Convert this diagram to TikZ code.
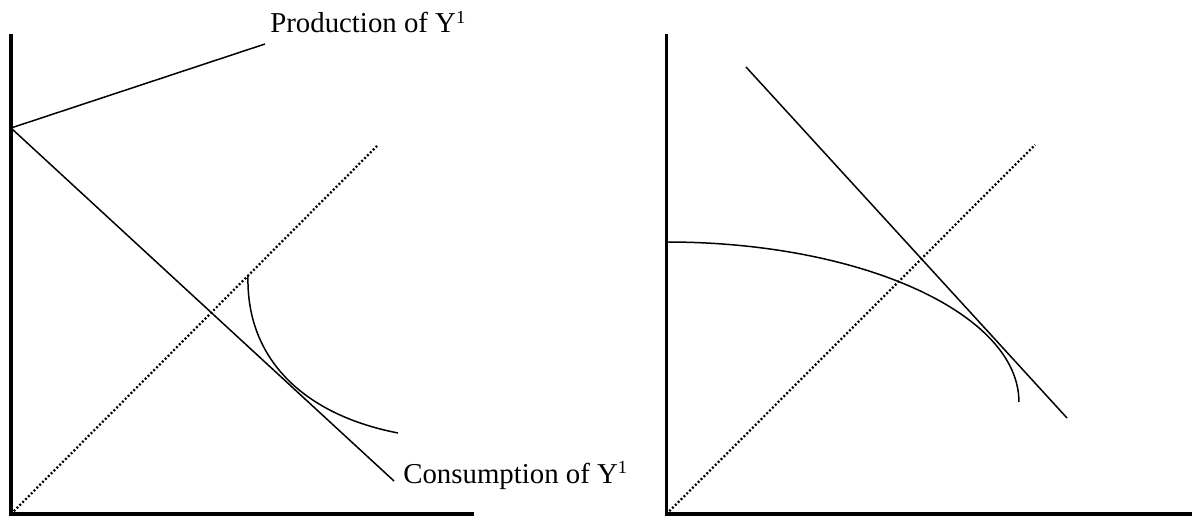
\documentclass[tikz,border=0pt]{standalone}
\usepackage{fontspec}
\setmainfont{Liberation Serif}
\usetikzlibrary{positioning}
\newcommand{\supone}{\raisebox{0.75ex}{\fontsize{10.5}{11}\selectfont 1}}

\begin{document}
\begin{tikzpicture}[
    x=0.02cm, y=-0.02cm,
    font=\fontsize{16.4}{19}\selectfont,
    axis/.style={line width=2pt, line join=miter},
    curve/.style={line width=0.85pt},
    diag/.style={line width=1.3pt, dash pattern=on 1.1pt off 1.2pt},
    lbl/.style={anchor=base west, inner sep=0pt}
  ]
  \useasboundingbox (0,0) rectangle (1192,516);
  % two pairs of axes
  \foreach \name/\x/\xend in {l/11/474, r/666.5/1192} {
    \coordinate (origin-\name) at (\x,514);
    \draw[axis] (\x,34) -- (origin-\name) -- (\xend,514);
  }
  % left panel
  \node[lbl] (prod) at (270,33) {Production of Y\supone};
  \node[lbl] (cons) at (403,483) {Consumption of Y\supone};
  \coordinate (endow) at (11,128);
  \coordinate (prod end) at (265,44);
  \coordinate (cons end) at (394,481);
  \draw[curve] (prod end) -- (endow) -- (cons end);
  \coordinate (ray-l) at (378,145);
  \draw[diag] (origin-l) -- (ray-l);
  \draw[curve] (248,276) .. controls (246,360) and (305,415) .. (398,433);
  % right panel
  \coordinate (ray-r) at (1035,145);
  \draw[diag] (origin-r) -- (ray-r);
  \coordinate (price top) at (746,67);
  \coordinate (price end) at (1067,418);
  \draw[curve] (price top) -- (price end);
  \coordinate (ppf top) at (666.5,242);
  \draw[curve] (ppf top) arc[start angle=90, end angle=0, x radius=7.05cm, y radius=3.2cm];
\end{tikzpicture}
\end{document}
